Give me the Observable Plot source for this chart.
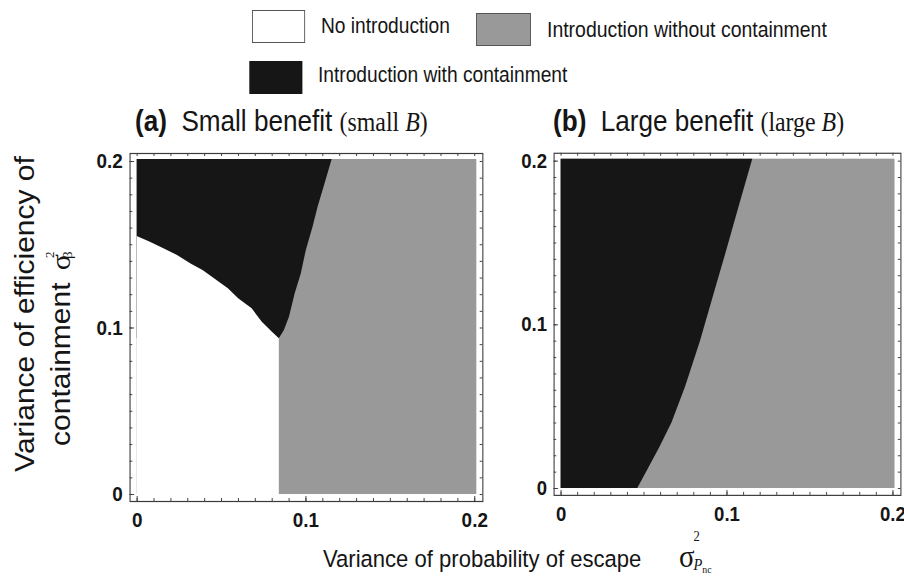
<!DOCTYPE html>
<html><head><meta charset="utf-8">
<script src="https://cdn.jsdelivr.net/npm/d3@7"></script>
<script src="https://cdn.jsdelivr.net/npm/@observablehq/plot@0.6"></script>
<style>
html,body{margin:0;padding:0;background:#fff;overflow:hidden;}
#fig{position:relative;width:1004px;height:578px;transform:scaleX(0.9);transform-origin:0 0;font-family:"Liberation Sans",Arial,sans-serif;color:#151515;}
.abs{position:absolute;white-space:nowrap;line-height:1;}
.serif{font-family:"Liberation Serif","Times New Roman",serif;}
.box{position:absolute;box-sizing:border-box;}
</style></head><body><div id="fig"></div>
<script>
// ---------- data ----------
const regionNames = ["No introduction", "Introduction without containment", "Introduction with containment"];
const regionColors = ["#ffffff", "#999999", "#161616"];
const panelTitles = ["(a)", "(b)"];
const panelSubtitles = ["Small benefit", "Large benefit"];
const panelParams = ["small", "large"];
const tickMajor = [0, 0.1, 0.2];
const tickMinor = [0, 0.01, 0.02, 0.03, 0.04, 0.05, 0.06, 0.07, 0.08, 0.09, 0.1,
                   0.11, 0.12, 0.13, 0.14, 0.15, 0.16, 0.17, 0.18, 0.19, 0.2];
const frameDomain = [-0.0042, 0.2048];
const fillExtent = [0, 0.2012];
// Panel (a): black/white boundary (curve), black/grey boundary
const aCurveX = [0, 0.0078, 0.0158, 0.0239, 0.0319, 0.0390, 0.0460, 0.0540, 0.0601, 0.0681, 0.0741, 0.0801, 0.0842];
const aCurveY = [0.155, 0.1515, 0.1476, 0.1435, 0.1385, 0.1345, 0.1295, 0.1235, 0.1175, 0.1115, 0.1035, 0.0975, 0.0935];
const aEdgeY = [0.0935, 0.0985, 0.1065, 0.1205, 0.1325, 0.1466, 0.1606, 0.1726, 0.1866, 0.2012];
const aEdgeX = [0.0842, 0.0872, 0.0902, 0.0936, 0.0972, 0.1002, 0.1042, 0.1072, 0.1113, 0.1155];
// Panel (b): black/grey boundary
const bEdgeY = [0, 0.010, 0.025, 0.040, 0.062, 0.090, 0.118, 0.146, 0.174, 0.2012];
const bEdgeX = [0.0462, 0.0515, 0.0595, 0.0668, 0.0750, 0.0840, 0.0920, 0.1000, 0.1078, 0.1155];

// ---------- layout ----------
const S = 0.9; // horizontal squeeze of the whole figure
const X = v => v / S;
const W = 446, H = 406, ML = 50, MR = 4, MT = 13, MB = 45;
const FW = W - ML - MR, FH = H - MT - MB;
const fig = document.getElementById("fig");

function fmt(d) { return d === 0 ? "0" : d3.format(".1f")(d); }

function panel(areaMarks) {
  const frameColor = "#3a3a3a";
  return Plot.plot({
    width: W, height: H, marginLeft: ML, marginRight: MR, marginTop: MT, marginBottom: MB,
    x: {domain: frameDomain, axis: null},
    y: {domain: frameDomain, axis: null},
    style: {fontFamily: "'Liberation Sans', Arial, sans-serif", fontWeight: "bold", color: "#151515", background: "transparent", overflow: "visible"},
    marks: [
      Plot.rect([0], {x1: fillExtent[0], x2: fillExtent[1], y1: fillExtent[0], y2: fillExtent[1], fill: regionColors[1]}),
      ...areaMarks,
      Plot.tickX(tickMinor, {x: d => d, insetTop: FH - 3, stroke: frameColor}),
      Plot.tickX(tickMinor, {x: d => d, insetBottom: FH - 3, stroke: frameColor}),
      Plot.tickY(tickMinor, {y: d => d, insetRight: FW - 3, stroke: frameColor}),
      Plot.tickY(tickMinor, {y: d => d, insetLeft: FW - 3, stroke: frameColor}),
      Plot.tickX(tickMajor, {x: d => d, insetTop: FH - 5, stroke: frameColor}),
      Plot.tickY(tickMajor, {y: d => d, insetRight: FW - 5, stroke: frameColor}),
      Plot.frame({stroke: frameColor, strokeWidth: 1.2}),
      Plot.axisX(tickMajor, {anchor: "bottom", tickSize: 0, tickPadding: 11, tickFormat: fmt, fontSize: 21, fontWeight: "bold", label: null}),
      Plot.axisY(tickMajor, {anchor: "left", tickSize: 0, tickPadding: 8, tickFormat: fmt, fontSize: 21, fontWeight: "bold", label: null})
    ]
  });
}

const aBlack = aEdgeY.map((y, i) => ({y, x: aEdgeX[i]}));
const aWhite = aCurveX.map((x, i) => ({x, y: aCurveY[i]}));
const bBlack = bEdgeY.map((y, i) => ({y, x: bEdgeX[i]}));

const pa = panel([
  Plot.areaX(aBlack, {y: "y", x1: fillExtent[0], x2: "x", fill: regionColors[2]}),
  Plot.areaY(aWhite, {x: "x", y1: fillExtent[0], y2: "y", fill: regionColors[0]})
]);
const pb = panel([
  Plot.areaX(bBlack, {y: "y", x1: fillExtent[0], x2: "x", fill: regionColors[2]})
]);
[[pa, X(130) - ML], [pb, X(554) - ML]].forEach(([svg, left]) => {
  const d = document.createElement("div");
  d.className = "abs";
  d.style.left = left + "px";
  d.style.top = (153 - MT) + "px";
  d.appendChild(svg);
  fig.appendChild(d);
});

// ---------- legend ----------
function addBox(x0, x1, y0, y1, color, border) {
  const b = document.createElement("div");
  b.className = "box";
  Object.assign(b.style, {left: X(x0) + "px", width: X(x1 - x0) + "px", top: y0 + "px", height: (y1 - y0) + "px",
    background: color, border: border ? "1px solid #555" : "none"});
  fig.appendChild(b);
}
function addText(html, x, top, size, extra) {
  const t = document.createElement("div");
  t.className = "abs";
  t.innerHTML = html;
  Object.assign(t.style, {left: X(x) + "px", top: top + "px", fontSize: size + "px"}, extra || {});
  fig.appendChild(t);
  return t;
}
addBox(252, 305, 10, 43, regionColors[0], true);
addText(regionNames[0], 321, 16, 21.3);
addBox(476, 531, 13, 46, regionColors[1], true);
addText(regionNames[1], 547, 19, 21.6);
addBox(249, 302, 61, 94, regionColors[2], false);
addText(regionNames[2], 318, 65, 21.3);

// ---------- titles ----------
[135, 553].forEach((x, i) => {
  addText(`<b>${panelTitles[i]}</b>&nbsp;&nbsp;${panelSubtitles[i]} <span class="serif" style="font-size:26.5px">(${panelParams[i]} <i>B</i>)</span>`, x, 107, 29);
});

// ---------- axis labels ----------
addText(`Variance of probability of escape<span class="serif" style="display:inline-block;position:relative;margin-left:42px;font-size:32px;">&sigma;<span style="position:absolute;left:16px;top:-10px;font-size:14px;">2</span><span style="position:absolute;left:16px;top:17px;font-size:16px;font-style:italic;">P<span style="font-style:normal;font-size:11px;position:relative;top:3px;">nc</span></span></span>`, 323, 540, 24.5);

function yLabel(html, cx, cy) {
  const d = document.createElement("div");
  d.className = "abs";
  Object.assign(d.style, {left: (X(cx) - 200) + "px", top: (cy - 20) + "px", width: "400px", height: "40px",
    transform: "rotate(-90deg)", transformOrigin: "50% 50%", textAlign: "center", fontSize: "30px", lineHeight: "40px"});
  d.innerHTML = html;
  fig.appendChild(d);
}
yLabel("Variance of efficiency of", 25, 314);
yLabel(`containment <span class="serif" style="display:inline-block;position:relative;width:24px;">&sigma;<span style="position:absolute;left:16px;top:-12px;font-size:13px;">2</span><span style="position:absolute;left:15px;top:7px;font-size:15px;">&beta;</span></span>`, 61, 348);
</script></body></html>
